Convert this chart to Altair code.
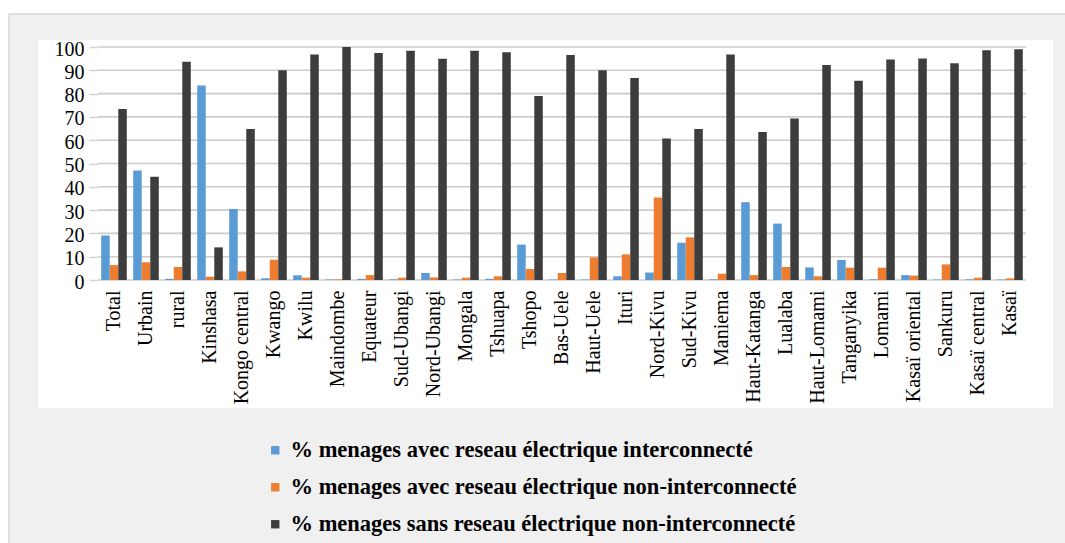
import altair as alt
import pandas as pd

categories = ["Total", "Urbain", "rural", "Kinshasa", "Kongo central", "Kwango", "Kwilu",
              "Maindombe", "Equateur", "Sud-Ubangi", "Nord-Ubangi", "Mongala", "Tshuapa",
              "Tshopo", "Bas-Uele", "Haut-Uele", "Ituri", "Nord-Kivu", "Sud-Kivu", "Maniema",
              "Haut-Katanga", "Lualaba", "Haut-Lomami", "Tanganyika", "Lomami",
              "Kasaï oriental", "Sankuru", "Kasaï central", "Kasaï"]

series_names = ["% menages avec reseau électrique interconnecté",
                "% menages avec reseau électrique non-interconnecté",
                "% menages sans reseau électrique non-interconnecté"]

interconnecte = [19.1, 47, 0.5, 83.5, 30.5, 0.7, 2, 0.2, 0.5, 0.3, 3, 0.2, 0.5, 15.2, 0.2,
                 0.2, 1.6, 3.2, 16, 0.3, 33.4, 24.2, 5.4, 8.6, 0.3, 2.1, 0.2, 0.3, 0.2]
non_interconnecte = [6.4, 7.6, 5.6, 1.4, 3.7, 8.7, 1, 0.3, 2.1, 1, 1.1, 1, 1.6, 4.7, 3,
                     9.7, 11, 35.4, 18.3, 2.7, 2.1, 5.6, 1.6, 5.3, 5.3, 1.9, 6.7, 1, 0.7]
sans_reseau = [73.4, 44.3, 93.7, 14, 64.8, 90, 96.8, 100, 97.4, 98.4, 95, 98.4, 97.7, 79,
               96.6, 90, 86.7, 60.7, 64.8, 96.8, 63.5, 69.3, 92.3, 85.5, 94.6, 95.1, 93,
               98.6, 99]

y_ticks = list(range(0, 101, 10))

colors = ["#5b9bd5", "#ed7d31", "#3d3d3d"]

rows = []
for name, vals in zip(series_names, [interconnecte, non_interconnecte, sans_reseau]):
    for c, v in zip(categories, vals):
        rows.append({"cat": c, "serie": name, "val": v})
df = pd.DataFrame(rows)
grid_df = pd.DataFrame({"t": y_ticks})

W, H = 928, 233
serif = "Liberation Serif"

one = alt.Data(values=[{"k": 1}])

yscale = alt.Scale(domain=[0, 100], nice=False)

gray_bg = alt.Chart(one).mark_rect(
    fill="#f0f0f0", stroke="#d6d6d6", strokeWidth=1.5, clip=False
).encode(
    x=alt.value(-89), x2=alt.value(W + 60), y=alt.value(-33), y2=alt.value(H + 280)
)

white_bg = alt.Chart(one).mark_rect(fill="white", clip=False).encode(
    x=alt.value(-60), x2=alt.value(955), y=alt.value(-7), y2=alt.value(361)
)

grid = alt.Chart(grid_df).mark_rule(color="#cccccc", strokeWidth=1.6).encode(
    y=alt.Y("t:Q", scale=yscale, title=None,
            axis=alt.Axis(values=y_ticks, zindex=1, grid=False)),
    x=alt.value(0), x2=alt.value(W)
)

bars = alt.Chart(df).mark_bar().encode(
    x=alt.X("cat:N", sort=categories, title=None,
            scale=alt.Scale(paddingInner=0.2, paddingOuter=0.1),
            axis=alt.Axis(labelAngle=-90, labelPadding=10, ticks=False,
                          labelLimit=200, zindex=1, grid=False)),
    xOffset=alt.XOffset("serie:N", sort=series_names),
    y=alt.Y("val:Q", title=None, scale=yscale,
            axis=alt.Axis(values=y_ticks, zindex=1, grid=False)),
    color=alt.Color("serie:N", sort=series_names,
                    scale=alt.Scale(domain=series_names, range=colors),
                    legend=alt.Legend(title=None, orient="none", legendX=166,
                                      legendY=392, direction="vertical",
                                      symbolType="square", symbolSize=70,
                                      symbolStrokeWidth=0, labelFont=serif,
                                      labelFontSize=22.5, labelFontWeight="bold",
                                      labelColor="black", labelLimit=700,
                                      rowPadding=14, labelOffset=4)),
)

chart = alt.layer(gray_bg, white_bg, grid, bars).properties(
    width=W, height=H,
    autosize=alt.AutoSizeParams(type="none"),
    padding={"left": 98, "top": 47, "right": 39, "bottom": 263},
    background="white",
).configure_view(stroke=None).configure_axis(
    labelFont=serif, labelColor="black", domain=False
).configure_axisX(
    labelFontSize=20
).configure_axisY(
    labelFontSize=20, labelPadding=5, labelOverlap=False, labelOffset=2,
    tickSize=9, tickColor="#d4d4d4", tickWidth=1.5
)

chart.save("out.html", embed_options={"renderer": "svg", "actions": False})
